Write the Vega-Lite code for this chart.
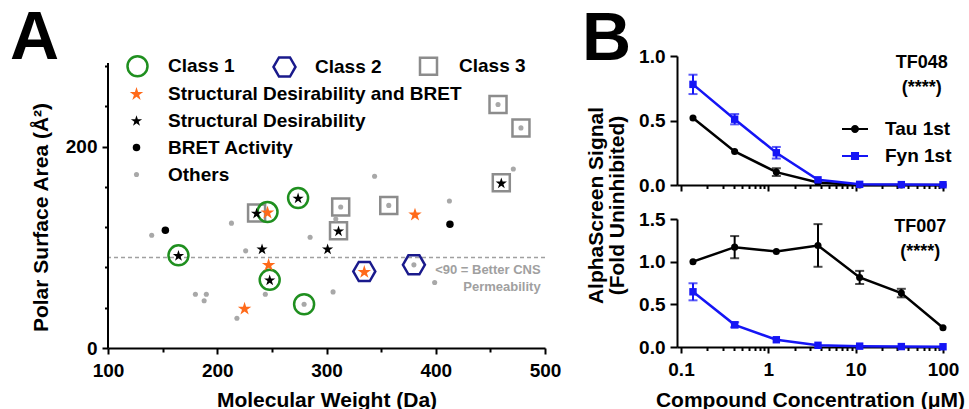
{
  "$schema": "https://vega.github.io/schema/vega-lite/v6.json",
  "background": "white",
  "padding": {"left": 10, "top": 4, "right": 0, "bottom": 0},
  "autosize": {"type": "pad"},
  "bounds": "flush",
  "spacing": 132,
  "config": {
    "view": {"stroke": null},
    "font": "Liberation Sans",
    "axis": {"domainColor": "black", "domainWidth": 2, "tickColor": "black", "tickWidth": 2, "labelFont": "Liberation Sans", "labelFontSize": 19, "labelFontWeight": "bold", "labelColor": "black", "titleFont": "Liberation Sans", "titleFontSize": 21, "titleFontWeight": "bold", "titleColor": "black", "grid": false, "labelOverlap": false, "labelFlush": false},
    "legend": {"labelFont": "Liberation Sans", "labelFontSize": 19, "labelFontWeight": "bold", "labelColor": "black", "padding": 0, "labelLimit": 0}
  },
  "resolve": {"scale": {"color": "independent", "shape": "independent", "size": "independent"}, "legend": {"color": "independent", "shape": "independent", "size": "independent"}},
  "hconcat": [
    {
      "width": 437,
      "height": 292,
      "title": {"text": "A", "anchor": "start", "frame": "group", "fontSize": 68, "fontWeight": "bold", "font": "Liberation Sans", "color": "black", "baseline": "alphabetic", "offset": 0, "dx": -98, "dy": 72.5},
      "data": {"values": [
        {"mw": 274, "psa": 149, "type": "Structural Desirability", "cls": "Class 1"},
        {"mw": 236, "psa": 134, "type": "Structural Desirability", "cls": "Class 3"},
        {"mw": 246, "psa": 135, "type": "Structural Desirability and BRET", "cls": "Class 1"},
        {"mw": 213, "psa": 124, "type": "Others", "cls": null},
        {"mw": 152.5, "psa": 117, "type": "BRET Activity", "cls": null},
        {"mw": 140, "psa": 112, "type": "Others", "cls": null},
        {"mw": 285, "psa": 110, "type": "Others", "cls": null},
        {"mw": 164.5, "psa": 92, "type": "Structural Desirability", "cls": "Class 1"},
        {"mw": 226, "psa": 96.5, "type": "Others", "cls": null},
        {"mw": 241, "psa": 98.5, "type": "Structural Desirability", "cls": null},
        {"mw": 247, "psa": 83, "type": "Structural Desirability and BRET", "cls": null},
        {"mw": 248, "psa": 67.7, "type": "Structural Desirability", "cls": "Class 1"},
        {"mw": 180, "psa": 53.4, "type": "Others", "cls": null},
        {"mw": 190, "psa": 53.4, "type": "Others", "cls": null},
        {"mw": 188, "psa": 47, "type": "Others", "cls": null},
        {"mw": 244, "psa": 53.4, "type": "Others", "cls": null},
        {"mw": 225, "psa": 39.5, "type": "Structural Desirability and BRET", "cls": null},
        {"mw": 218, "psa": 29.5, "type": "Others", "cls": null},
        {"mw": 279.5, "psa": 43.5, "type": "Others", "cls": "Class 1"},
        {"mw": 313, "psa": 140, "type": "Others", "cls": "Class 3"},
        {"mw": 357, "psa": 141.6, "type": "Others", "cls": "Class 3"},
        {"mw": 381, "psa": 133, "type": "Structural Desirability and BRET", "cls": null},
        {"mw": 412.5, "psa": 146, "type": "Others", "cls": null},
        {"mw": 413, "psa": 123, "type": "BRET Activity", "cls": null},
        {"mw": 308.5, "psa": 128, "type": "Others", "cls": null},
        {"mw": 311, "psa": 116.4, "type": "Structural Desirability", "cls": "Class 3"},
        {"mw": 301, "psa": 98.5, "type": "Structural Desirability", "cls": null},
        {"mw": 334.6, "psa": 76, "type": "Structural Desirability and BRET", "cls": "Class 2"},
        {"mw": 380, "psa": 82.6, "type": "Others", "cls": "Class 2"},
        {"mw": 399, "psa": 65, "type": "Others", "cls": null},
        {"mw": 306, "psa": 55.7, "type": "Others", "cls": null},
        {"mw": 460, "psa": 164, "type": "Structural Desirability", "cls": "Class 3"},
        {"mw": 457, "psa": 241.8, "type": "Others", "cls": "Class 3"},
        {"mw": 478, "psa": 218.6, "type": "Others", "cls": "Class 3"},
        {"mw": 471, "psa": 177.8, "type": "Others", "cls": null},
        {"mw": 344, "psa": 170.5, "type": "Others", "cls": null}
      ]},
      "resolve": {"scale": {"color": "independent", "shape": "independent", "size": "independent"}, "legend": {"color": "independent", "shape": "independent", "size": "independent"}},
      "layer": [
        {
          "data": {"values": [{}]},
          "mark": {"type": "rule", "color": "#a0a0a0", "strokeDash": [4, 3], "strokeWidth": 1.5},
          "encoding": {"y": {"datum": 90, "type": "quantitative"}}
        },
        {
          "data": {"values": [{}]},
          "mark": {"type": "rule", "color": "black", "strokeWidth": 2},
          "encoding": {"x": {"datum": 100, "type": "quantitative"}, "y": {"datum": 0, "type": "quantitative"}, "y2": {"datum": 283}}
        },
        {
          "data": {"values": [{}]},
          "mark": {"type": "text", "align": "right", "baseline": "middle", "fontSize": 13, "fontWeight": "bold", "font": "Liberation Sans", "color": "#a0a0a0", "lineHeight": 17, "text": ["<90 = Better CNS", "Permeability"]},
          "encoding": {"x": {"datum": 496, "type": "quantitative"}, "y": {"datum": 77.6, "type": "quantitative"}}
        },
        {
          "transform": [{"filter": "datum.cls != null"}],
          "mark": {"type": "point", "filled": false, "strokeWidth": 2.5, "opacity": 1},
          "encoding": {
            "x": {"field": "mw", "type": "quantitative"},
            "y": {"field": "psa", "type": "quantitative"},
            "shape": {"field": "cls", "type": "nominal", "scale": {"domain": ["Class 1", "Class 2", "Class 3"], "range": ["circle", "M-1,0L-0.5,-0.866L0.5,-0.866L1,0L0.5,0.866L-0.5,0.866Z", "square"]},
              "legend": {"title": null, "orient": "none", "legendX": 17, "legendY": -2, "direction": "horizontal", "columns": 3, "columnPadding": 33, "labelOffset": 18, "symbolStrokeWidth": 2.5}},
            "color": {"field": "cls", "type": "nominal", "scale": {"domain": ["Class 1", "Class 2", "Class 3"], "range": ["#1f8f1f", "#1a1a8c", "#8c8c8c"]},
              "legend": {"title": null, "orient": "none", "legendX": 17, "legendY": -2, "direction": "horizontal", "columns": 3, "columnPadding": 33, "labelOffset": 18, "symbolStrokeWidth": 2.5}},
            "size": {"field": "cls", "type": "nominal", "scale": {"type": "ordinal", "domain": ["Class 1", "Class 2", "Class 3"], "range": [400, 484, 289]},
              "legend": {"title": null, "orient": "none", "legendX": 17, "legendY": -2, "direction": "horizontal", "columns": 3, "columnPadding": 33, "labelOffset": 18, "symbolStrokeWidth": 2.5}}
          }
        },
        {
          "mark": {"type": "point", "filled": true, "opacity": 1, "strokeWidth": 0},
          "encoding": {
            "x": {"field": "mw", "type": "quantitative", "scale": {"domain": [100, 500], "nice": false, "zero": false},
              "axis": {"title": "Molecular Weight (Da)", "values": [100, 150, 200, 250, 300, 350, 400, 450, 500],
                "tickSize": {"condition": {"test": "datum.value % 100 === 0", "value": 6}, "value": 4},
                "labelExpr": "datum.value % 100 === 0 ? datum.label : ''", "labelPadding": 7, "titleY": 58, "titleBaseline": "alphabetic"}},
            "y": {"field": "psa", "type": "quantitative", "scale": {"domain": [0, 290], "nice": false},
              "axis": {"title": "Polar Surface Area (Å²)", "domain": false, "values": [0, 10, 20, 30, 40, 50, 60, 70, 80, 90, 100, 110, 120, 130, 140, 150, 160, 170, 180, 190, 200, 210, 220, 230, 240, 250, 260, 270, 280],
                "tickSize": {"condition": {"test": "datum.value % 100 === 0", "value": 6}, "value": 3.5},
                "labelExpr": "datum.value % 100 === 0 ? datum.label : ''", "labelPadding": 5, "titleX": -61, "titleY": 161, "titleBaseline": "alphabetic", "titleAngle": 270}},
            "shape": {"field": "type", "type": "nominal", "scale": {"domain": ["Structural Desirability and BRET", "Structural Desirability", "BRET Activity", "Others"], "range": ["M0,-0.905L0.2245,-0.214L0.9511,-0.214L0.3633,0.213L0.5878,0.904L0,0.477L-0.5878,0.904L-0.3633,0.213L-0.9511,-0.214L-0.2245,-0.214Z", "M0,-0.905L0.2245,-0.214L0.9511,-0.214L0.3633,0.213L0.5878,0.904L0,0.477L-0.5878,0.904L-0.3633,0.213L-0.9511,-0.214L-0.2245,-0.214Z", "circle", "circle"]},
              "legend": {"title": null, "orient": "none", "legendX": 19, "legendY": 28, "direction": "vertical", "labelOffset": 22, "rowPadding": 7, "symbolStrokeWidth": 0}},
            "color": {"field": "type", "type": "nominal", "scale": {"domain": ["Structural Desirability and BRET", "Structural Desirability", "BRET Activity", "Others"], "range": ["#ff6a1a", "#000000", "#000000", "#a8a8a8"]},
              "legend": {"title": null, "orient": "none", "legendX": 19, "legendY": 28, "direction": "vertical", "labelOffset": 22, "rowPadding": 7, "symbolStrokeWidth": 0}},
            "size": {"field": "type", "type": "nominal", "scale": {"type": "ordinal", "domain": ["Structural Desirability and BRET", "Structural Desirability", "BRET Activity", "Others"], "range": [200, 140, 56, 26]},
              "legend": {"title": null, "orient": "none", "legendX": 19, "legendY": 28, "direction": "vertical", "labelOffset": 22, "rowPadding": 7, "symbolStrokeWidth": 0}}
          }
        }
      ]
    },
    {
      "spacing": 34,
      "bounds": "flush",
      "vconcat": [
        {
          "width": 266,
          "height": 129,
          "title": {"text": "B", "anchor": "start", "frame": "group", "fontSize": 68, "fontWeight": "bold", "font": "Liberation Sans", "color": "black", "baseline": "alphabetic", "offset": 0, "dx": -95, "dy": 80.5},
          "data": {"values": [
            {"series": "Tau 1st", "conc": 0.1372, "val": 0.52, "err": 0.01},
            {"series": "Tau 1st", "conc": 0.4115, "val": 0.26, "err": 0.01},
            {"series": "Tau 1st", "conc": 1.235, "val": 0.1, "err": 0.03},
            {"series": "Tau 1st", "conc": 3.704, "val": 0.02, "err": 0.01},
            {"series": "Tau 1st", "conc": 11.11, "val": 0.0, "err": 0.0},
            {"series": "Tau 1st", "conc": 33.33, "val": 0.0, "err": 0.0},
            {"series": "Tau 1st", "conc": 100, "val": 0.0, "err": 0.0},
            {"series": "Fyn 1st", "conc": 0.1372, "val": 0.78, "err": 0.075},
            {"series": "Fyn 1st", "conc": 0.4115, "val": 0.51, "err": 0.04},
            {"series": "Fyn 1st", "conc": 1.235, "val": 0.25, "err": 0.045},
            {"series": "Fyn 1st", "conc": 3.704, "val": 0.04, "err": 0.01},
            {"series": "Fyn 1st", "conc": 11.11, "val": 0.005, "err": 0.0},
            {"series": "Fyn 1st", "conc": 33.33, "val": 0.003, "err": 0.0},
            {"series": "Fyn 1st", "conc": 100, "val": 0.002, "err": 0.0}
          ]},
          "layer": [
            {
              "transform": [{"filter": "datum.err >= 0.025 && datum.series == 'Tau 1st'"}],
              "mark": {"type": "errorbar", "ticks": {"size": 9}, "thickness": 2, "color": "#000000"},
              "encoding": {
                "x": {"field": "conc", "type": "quantitative", "title": null},
                "y": {"field": "val", "type": "quantitative", "title": "AlphaScreen Signal"},
                "yError": {"field": "err"}
              }
            },
            {
              "transform": [{"filter": "datum.err >= 0.025 && datum.series == 'Fyn 1st'"}],
              "mark": {"type": "errorbar", "ticks": {"size": 9}, "thickness": 2, "color": "#1515f5"},
              "encoding": {
                "x": {"field": "conc", "type": "quantitative", "title": null},
                "y": {"field": "val", "type": "quantitative", "title": "AlphaScreen Signal"},
                "yError": {"field": "err"}
              }
            },
            {
              "mark": {"type": "line", "strokeWidth": 2.5},
              "encoding": {
                "x": {"field": "conc", "type": "quantitative", "scale": {"type": "log", "domain": [0.09, 100], "nice": false},
                  "axis": {"title": null, "labels": false, "values": [0.1, 0.2, 0.3, 0.4, 0.5, 0.6, 0.7, 0.8, 0.9, 1, 2, 3, 4, 5, 6, 7, 8, 9, 10, 20, 30, 40, 50, 60, 70, 80, 90, 100],
                    "tickSize": {"condition": {"test": "datum.value == 0.1 || datum.value == 1 || datum.value == 10 || datum.value == 100", "value": 6}, "value": 3.5}}},
                "y": {"field": "val", "type": "quantitative", "title": "AlphaScreen Signal", "scale": {"domain": [0, 1], "nice": false},
                  "axis": {"title": "AlphaScreen Signal", "values": [0, 0.5, 1], "format": ".1f", "tickSize": 7, "labelPadding": 5,
                    "titleX": -74.5, "titleY": 149, "titleBaseline": "alphabetic", "titleAlign": "center", "titleAngle": 270}},
                "color": {"field": "series", "type": "nominal", "scale": {"domain": ["Tau 1st", "Fyn 1st"], "range": ["#000000", "#1515f5"]},
                  "legend": {"title": null, "orient": "none", "legendX": 165, "legendY": 60, "symbolType": "circle", "symbolSize": 676, "symbolStrokeWidth": 0, "labelOffset": 17, "rowPadding": 4,
                    "encode": {"symbols": {"update": {
                      "shape": {"signal": "datum.value === 'Tau 1st' ? 'M-1,-0.08L1,-0.08L1,0.08L-1,0.08Z M-0.31,0A0.31,0.31 0 1,1 0.31,0A0.31,0.31 0 1,1 -0.31,0Z' : 'M-1,-0.08L1,-0.08L1,0.08L-1,0.08Z M-0.31,-0.31L0.31,-0.31L0.31,0.31L-0.31,0.31Z'"},
                      "fill": {"signal": "datum.value === 'Tau 1st' ? '#000000' : '#1515f5'"},
                      "size": {"value": 676},
                      "opacity": {"value": 1}
                    }}}}}
              }
            },
            {
              "transform": [{"filter": "datum.series == 'Tau 1st'"}],
              "mark": {"type": "point", "filled": true, "opacity": 1, "strokeWidth": 0, "shape": "circle", "size": 50, "color": "#000000"},
              "encoding": {
                "x": {"field": "conc", "type": "quantitative", "title": null},
                "y": {"field": "val", "type": "quantitative", "title": "AlphaScreen Signal"}
              }
            },
            {
              "transform": [{"filter": "datum.series == 'Fyn 1st'"}],
              "mark": {"type": "point", "filled": true, "opacity": 1, "strokeWidth": 0, "shape": "square", "size": 55, "color": "#1515f5"},
              "encoding": {
                "x": {"field": "conc", "type": "quantitative", "title": null},
                "y": {"field": "val", "type": "quantitative", "title": "AlphaScreen Signal"}
              }
            },
            {
              "data": {"values": [{}]},
              "mark": {"type": "text", "align": "center", "baseline": "middle", "fontSize": 18, "fontWeight": "bold", "font": "Liberation Sans", "color": "black", "lineHeight": 25, "text": ["TF048", "(****)"]},
              "encoding": {"x": {"datum": 57, "type": "quantitative", "title": null}, "y": {"datum": 0.946, "type": "quantitative", "title": "AlphaScreen Signal"}}
            }
          ]
        },
        {
          "width": 266,
          "height": 128,
          "data": {"values": [
            {"series": "Tau 1st", "conc": 0.1372, "val": 1.0, "err": 0.01},
            {"series": "Tau 1st", "conc": 0.4115, "val": 1.17, "err": 0.13},
            {"series": "Tau 1st", "conc": 1.235, "val": 1.12, "err": 0.02},
            {"series": "Tau 1st", "conc": 3.704, "val": 1.19, "err": 0.25},
            {"series": "Tau 1st", "conc": 11.11, "val": 0.815, "err": 0.077},
            {"series": "Tau 1st", "conc": 33.33, "val": 0.632, "err": 0.05},
            {"series": "Tau 1st", "conc": 100, "val": 0.226, "err": 0.01},
            {"series": "Fyn 1st", "conc": 0.1372, "val": 0.647, "err": 0.1},
            {"series": "Fyn 1st", "conc": 0.4115, "val": 0.26, "err": 0.03},
            {"series": "Fyn 1st", "conc": 1.235, "val": 0.085, "err": 0.01},
            {"series": "Fyn 1st", "conc": 3.704, "val": 0.02, "err": 0.005},
            {"series": "Fyn 1st", "conc": 11.11, "val": 0.01, "err": 0.0},
            {"series": "Fyn 1st", "conc": 33.33, "val": 0.005, "err": 0.0},
            {"series": "Fyn 1st", "conc": 100, "val": 0.003, "err": 0.0}
          ]},
          "layer": [
            {
              "transform": [{"filter": "datum.err >= 0.025 && datum.series == 'Tau 1st'"}],
              "mark": {"type": "errorbar", "ticks": {"size": 9}, "thickness": 2, "color": "#000000"},
              "encoding": {
                "x": {"field": "conc", "type": "quantitative", "title": "Compound Concentration (μM)"},
                "y": {"field": "val", "type": "quantitative", "title": "(Fold Uninhibited)"},
                "yError": {"field": "err"}
              }
            },
            {
              "transform": [{"filter": "datum.err >= 0.025 && datum.series == 'Fyn 1st'"}],
              "mark": {"type": "errorbar", "ticks": {"size": 9}, "thickness": 2, "color": "#1515f5"},
              "encoding": {
                "x": {"field": "conc", "type": "quantitative", "title": "Compound Concentration (μM)"},
                "y": {"field": "val", "type": "quantitative", "title": "(Fold Uninhibited)"},
                "yError": {"field": "err"}
              }
            },
            {
              "mark": {"type": "line", "strokeWidth": 2.5, "color": "#000000"},
              "transform": [{"filter": "datum.series == 'Tau 1st'"}],
              "encoding": {
                "x": {"field": "conc", "type": "quantitative", "title": "Compound Concentration (μM)", "scale": {"type": "log", "domain": [0.09, 100], "nice": false},
                  "axis": {"title": "Compound Concentration (μM)", "values": [0.1, 0.2, 0.3, 0.4, 0.5, 0.6, 0.7, 0.8, 0.9, 1, 2, 3, 4, 5, 6, 7, 8, 9, 10, 20, 30, 40, 50, 60, 70, 80, 90, 100],
                    "tickSize": {"condition": {"test": "datum.value == 0.1 || datum.value == 1 || datum.value == 10 || datum.value == 100", "value": 6}, "value": 3.5},
                    "labelExpr": "datum.value == 0.1 ? '0.1' : datum.value == 1 ? '1' : datum.value == 10 ? '10' : datum.value == 100 ? '100' : ''",
                    "labelPadding": 7, "titleY": 59, "titleBaseline": "alphabetic"}},
                "y": {"field": "val", "type": "quantitative", "title": "(Fold Uninhibited)", "scale": {"domain": [0, 1.5], "nice": false},
                  "axis": {"title": "(Fold Uninhibited)", "values": [0, 0.5, 1, 1.5], "format": ".1f", "tickSize": 7, "labelPadding": 5,
                    "titleX": -53.5, "titleY": -14, "titleBaseline": "alphabetic", "titleAlign": "center", "titleAngle": 270}}
              }
            },
            {
              "mark": {"type": "line", "strokeWidth": 2.5, "color": "#1515f5"},
              "transform": [{"filter": "datum.series == 'Fyn 1st'"}],
              "encoding": {
                "x": {"field": "conc", "type": "quantitative", "title": "Compound Concentration (μM)"},
                "y": {"field": "val", "type": "quantitative", "title": "(Fold Uninhibited)"}
              }
            },
            {
              "transform": [{"filter": "datum.series == 'Tau 1st'"}],
              "mark": {"type": "point", "filled": true, "opacity": 1, "strokeWidth": 0, "shape": "circle", "size": 50, "color": "#000000"},
              "encoding": {
                "x": {"field": "conc", "type": "quantitative", "title": "Compound Concentration (μM)"},
                "y": {"field": "val", "type": "quantitative", "title": "(Fold Uninhibited)"}
              }
            },
            {
              "transform": [{"filter": "datum.series == 'Fyn 1st'"}],
              "mark": {"type": "point", "filled": true, "opacity": 1, "strokeWidth": 0, "shape": "square", "size": 55, "color": "#1515f5"},
              "encoding": {
                "x": {"field": "conc", "type": "quantitative", "title": "Compound Concentration (μM)"},
                "y": {"field": "val", "type": "quantitative", "title": "(Fold Uninhibited)"}
              }
            },
            {
              "data": {"values": [{}]},
              "mark": {"type": "text", "align": "center", "baseline": "middle", "fontSize": 18, "fontWeight": "bold", "font": "Liberation Sans", "color": "black", "lineHeight": 25, "text": ["TF007", "(****)"]},
              "encoding": {"x": {"datum": 55, "type": "quantitative", "title": "Compound Concentration (μM)"}, "y": {"datum": 1.412, "type": "quantitative", "title": "(Fold Uninhibited)"}}
            }
          ]
        }
      ]
    }
  ]
}
